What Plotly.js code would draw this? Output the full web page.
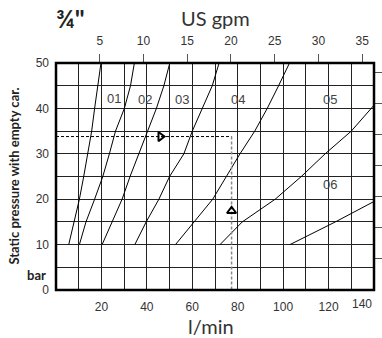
<!DOCTYPE html>
<html>
<head>
<meta charset="utf-8">
<script src="https://cdn.plot.ly/plotly-3.0.1.min.js"></script>
<style>html,body{margin:0;padding:0;background:#fff;}#chart{width:382px;height:338px;}</style>
</head>
<body>
<div id="chart"></div>
<script>
// ---- data (l/min vs bar) ----
const pressureLevels = [10, 15, 20, 25, 30, 35, 40, 45, 50];
const flowA = [5.6, 8.1, 10.3, 12.2, 14.1, 15.7, 17.0, 18.4, 19.8];
const flowB = [10.3, 13.2, 17.0, 20.6, 23.5, 26.2, 30.1, 32.8, 34.5];
const flowC = [20.3, 24.7, 29.1, 32.6, 36.4, 40.1, 44.2, 47.5, 50.1];
const flowD = [34.7, 39.7, 45.3, 50.0, 56.3, 60.0, 64.4, 68.8, 71.8];
const flowE = [52.6, 61.0, 69.0, 75.0, 81.0, 87.5, 93.0, 98.0, 102.8];
const flowF = [72.2, 82.0, 96.5, 108.0, 118.5, 130.0, 140.0];
const pressF = [10, 15, 20, 25, 30, 35, 40.7];
const flowG = [103.0, 123.0, 140.0];
const pressG = [10, 15, 19.5];

const curveLabels = ['01', '02', '03', '04', '05', '06'];
const labelX = [25.4, 39.4, 55.3, 80.2, 120.8, 120.8];
const labelY = [42.2, 41.9, 41.9, 42.0, 42.0, 23.3];

const exampleFlow = 77.3;
const examplePressure = 33.8;
const arrowX = [46, 77.3];
const arrowY = [33.8, 17.4];

const xTickVals = [10, 20, 30, 40, 50, 60, 70, 80, 90, 100, 110, 120, 130];
const xTickText = ['', '20', '', '40', '', '60', '', '80', '', '100', '', '120', ''];
const lastXTick = '140';
const yTickVals = [0, 5, 10, 15, 20, 25, 30, 35, 40, 45, 50];
const yTickText = ['0', '', '10', '', '20', '', '30', '', '40', '', '50'];
const gpmTicks = [5, 10, 15, 20, 25, 30, 35];
const psiTicks = [100, 200, 300, 400, 500, 600, 700];

const curveLine = {color: '#000', width: 1};
const traces = [];
[[flowA, pressureLevels], [flowB, pressureLevels], [flowC, pressureLevels],
 [flowD, pressureLevels], [flowE, pressureLevels], [flowF, pressF], [flowG, pressG]]
  .forEach(([xs, ys]) => traces.push({x: xs, y: ys, mode: 'lines', line: curveLine,
     hoverinfo: 'skip', showlegend: false}));

traces.push({x: [0, exampleFlow], y: [examplePressure, examplePressure], mode: 'lines',
  line: {color: '#000', width: 1, dash: '3px,2px'}, hoverinfo: 'skip', showlegend: false});
traces.push({x: [exampleFlow, exampleFlow], y: [examplePressure, 0], mode: 'lines',
  line: {color: '#888', width: 1.5, dash: '3px,2px'}, hoverinfo: 'skip', showlegend: false});
traces.push({x: arrowX, y: arrowY, mode: 'markers',
  marker: {symbol: ['triangle-right-open', 'triangle-up-open'], size: 8, color: '#000',
           line: {color: '#000', width: 2}},
  hoverinfo: 'skip', showlegend: false});
// secondary axes carriers
traces.push({x: [0], y: [0], xaxis: 'x2', yaxis: 'y', mode: 'markers', marker: {opacity: 0}, hoverinfo: 'skip', showlegend: false});
traces.push({x: [0], y: [0], xaxis: 'x', yaxis: 'y2', mode: 'markers', marker: {opacity: 0}, hoverinfo: 'skip', showlegend: false});

const tickFont = {family: 'Liberation Sans, Arial, sans-serif', size: 12, color: '#333'};
const annotations = curveLabels.map((t, i) => ({x: labelX[i], y: labelY[i], xref: 'x', yref: 'y',
  text: t, showarrow: false, font: {family: 'Liberation Sans, Arial, sans-serif', size: 13, color: '#444'}}));
annotations.push({x: 1, xref: 'paper', y: 0, yref: 'paper', text: lastXTick, xanchor: 'right',
  yanchor: 'top', yshift: -5, showarrow: false, font: tickFont});
annotations.push({x: 0.5, xref: 'paper', y: 1.2, yref: 'paper', text: 'US gpm', showarrow: false,
  yanchor: 'middle', font: {family: 'Lato, sans-serif', size: 20, color: '#333'}});
annotations.push({x: -0.005, xref: 'paper', y: 1.2, yref: 'paper', text: '<b>¾"</b>', showarrow: false,
  xanchor: 'left', yanchor: 'middle', font: {family: 'Lato, sans-serif', size: 25, color: '#222'}});
annotations.push({x: 0.487, xref: 'paper', y: -0.158, yref: 'paper', text: 'l/min', showarrow: false,
  yanchor: 'middle', font: {family: 'Lato, sans-serif', size: 20, color: '#333'}});
annotations.push({x: -0.135, xref: 'paper', y: 0.5, yref: 'paper', text: '<b>Static pressure with empty car.</b>',
  textangle: -90, showarrow: false, xanchor: 'center', yanchor: 'middle',
  font: {family: 'Lato, sans-serif', size: 13, color: '#222'}});
annotations.push({x: -0.0236, xref: 'paper', y: 3.3, yref: 'y', text: '<b>bar</b>', showarrow: false,
  xanchor: 'right', yanchor: 'middle', font: {family: 'Lato, sans-serif', size: 13, color: '#222'}});

const layout = {
  width: 382, height: 338,
  margin: {l: 56, r: 8, t: 63, b: 48, pad: 0},
  paper_bgcolor: '#fff', plot_bgcolor: '#fff',
  showlegend: false,
  xaxis: {range: [0, 140], tickmode: 'array', tickvals: xTickVals, ticktext: xTickText,
    showgrid: true, gridcolor: '#222', gridwidth: 1, zeroline: false, showline: false,
    ticks: '', ticklabelstandoff: 8, tickfont: tickFont, fixedrange: true},
  xaxis2: {range: [0, 36.35], overlaying: 'x', side: 'top', tickmode: 'array', tickvals: gpmTicks,
    showgrid: false, zeroline: false, showline: false, ticks: 'outside', ticklen: 8,
    tickcolor: '#555', tickwidth: 1, ticklabelstandoff: 4, tickfont: tickFont, fixedrange: true},
  yaxis: {range: [0, 50], tickmode: 'array', tickvals: yTickVals, ticktext: yTickText,
    showgrid: true, gridcolor: '#222', gridwidth: 1, zeroline: false, showline: false,
    ticks: '', ticklabelstandoff: 6, tickfont: tickFont, fixedrange: true},
  yaxis2: {range: [0, 730], overlaying: 'y', side: 'right', tickmode: 'array', tickvals: psiTicks,
    showgrid: false, zeroline: false, showline: false, ticks: 'outside', ticklen: 8,
    tickcolor: '#555', tickwidth: 1, showticklabels: false, fixedrange: true},
  shapes: [{type: 'rect', xref: 'paper', yref: 'paper', x0: 0, x1: 1, y0: 0, y1: 1,
    line: {color: '#000', width: 2.5}, layer: 'above'}],
  annotations: annotations
};

Plotly.newPlot('chart', traces, layout, {staticPlot: true, displayModeBar: false});
</script>
</body>
</html>
